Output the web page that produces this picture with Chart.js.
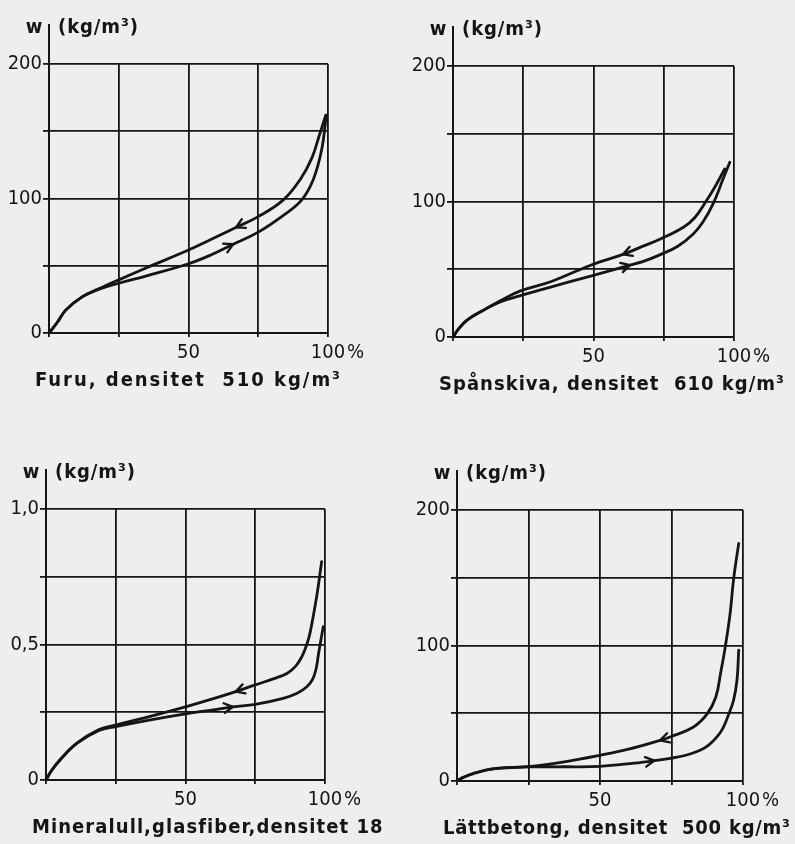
<!DOCTYPE html>
<html><head><meta charset="utf-8">
<script src="https://cdn.jsdelivr.net/npm/chart.js@4.4.1/dist/chart.umd.min.js"></script>
<style>
html,body{margin:0;padding:0;background:#eeeeee;width:795px;height:844px;overflow:hidden;position:relative}
.panel{position:absolute}
</style></head><body>
<script>
// ---------- data (x = relative humidity %, y = moisture content w) ----------
const furuAbsRH = [0, 3, 6, 12, 18, 25, 35, 50, 58, 66, 75, 85, 90.6, 94.7, 97.7, 99.4];
const furuAbsW  = [0, 8, 17, 27, 32.5, 37, 42.5, 51.5, 58, 66, 75, 89, 99, 114, 136, 162];
const furuDesRH = [0, 3, 6, 12, 18, 25, 35, 50, 58, 67, 75, 84, 90, 94.2, 96.9, 99.2];
const furuDesW  = [0, 8, 17, 27, 33, 39.5, 48.5, 61.7, 69.5, 78.5, 86.5, 99, 114, 130, 147, 162];

const spanAbsRH = [0, 2, 5, 11, 17, 24, 35, 49, 63, 68, 74, 80, 85.5, 89, 92.5, 96, 98.5];
const spanAbsW  = [0, 6, 12.5, 20, 26, 30.5, 37, 45, 53, 56, 61, 67, 76, 85, 98, 116, 129];
const spanDesRH = [0, 2, 5, 11, 17, 24, 35, 49, 60.5, 67, 74, 82, 86, 90, 93, 96.7];
const spanDesW  = [0, 6, 12.5, 20, 27, 34, 41, 53, 61, 66.5, 72.5, 81, 88, 100, 110, 124];

const woolAbsRH = [0, 2, 5, 11, 19, 25, 37, 50, 60, 67, 75, 85, 90, 93.5, 95.5, 96.8, 97.6, 98.5, 99.4];
const woolAbsW  = [0, 0.035, 0.074, 0.135, 0.183, 0.197, 0.221, 0.244, 0.259, 0.27, 0.279, 0.301, 0.32, 0.344, 0.37, 0.41, 0.46, 0.515, 0.566];
const woolDesRH = [0, 2, 5, 11, 19, 25, 37, 50, 60, 68, 75, 82, 86.5, 89.5, 91.7, 93.3, 94.6, 97, 98.8];
const woolDesW  = [0, 0.035, 0.074, 0.135, 0.186, 0.203, 0.234, 0.27, 0.3, 0.326, 0.351, 0.375, 0.394, 0.42, 0.455, 0.495, 0.541, 0.676, 0.806];

const lattAbsRH = [0, 2, 5.6, 12.6, 25, 37, 50, 62, 69, 74.5, 80, 85, 88, 90.9, 93, 95, 96.7, 97.9, 98.5];
const lattAbsW  = [0, 2.5, 5.5, 9, 10.4, 10.5, 10.8, 13.2, 15, 16.7, 19, 22.7, 26.5, 32.5, 39, 49.3, 59.6, 74.4, 96.6];
const lattDesRH = [0, 2, 5.6, 12.6, 25, 37, 50, 60, 71, 74.5, 82.7, 87.4, 90.5, 92.2, 93.8, 95.5, 96.7, 98.5];
const lattDesW  = [0, 2.5, 5.5, 9, 10.6, 14, 19, 23.5, 30, 32.5, 39.9, 49.3, 62, 80, 99, 123.7, 148.8, 175.4];

// arrow positions (RH value of the point carrying the arrow): [absorption, desorption]
const furuArrows = [66, 67];
const spanArrows = [63, 60.5];
const woolArrows = [67, 68];
const lattArrows = [69, 71];

// tick labels
const kgTickValues   = [0, 100, 200];
const kgTickText     = ['0', '100', '200'];
const woolTickValues = [0, 0.5, 1.0];
const woolTickText   = ['0', '0,5', '1,0'];
const rhTickValues   = [50, 100];
const rhTickText     = ['50', '100'];

const unitLabel = '(kg/m³)';
const captions = [
  'Furu, densitet  510 kg/m³',
  'Spånskiva, densitet  610 kg/m³',
  'Mineralull,glasfiber,densitet 18',
  'Lättbetong, densitet  500 kg/m³'
];

// ---------- styling / layout ----------
const INK = '#151515';
const TICK_FONT = "'Liberation Sans Narrow', 'DejaVu Sans Condensed', sans-serif";
const TICK_SIZE = 20;
const TEXT_FONT = "bold 20px 'DejaVu Sans Condensed', 'DejaVu Sans', sans-serif";

const panels = [
  { absX: furuAbsRH, absY: furuAbsW, desX: furuDesRH, desY: furuDesW, arrows: furuArrows,
    yMax: 200, yStep: 50, tv: kgTickValues, tt: kgTickText, caption: captions[0],
    box: { L: 49, T: 64, R: 328, B: 333 }, capW: 305 },
  { absX: spanAbsRH, absY: spanAbsW, desX: spanDesRH, desY: spanDesW, arrows: spanArrows,
    yMax: 200, yStep: 50, tv: kgTickValues, tt: kgTickText, caption: captions[1],
    box: { L: 453, T: 66, R: 734, B: 337 }, capW: 345 },
  { absX: woolAbsRH, absY: woolAbsW, desX: woolDesRH, desY: woolDesW, arrows: woolArrows,
    yMax: 1.0, yStep: 0.25, tv: woolTickValues, tt: woolTickText, caption: captions[2],
    box: { L: 46, T: 509, R: 325, B: 780 }, capW: 350 },
  { absX: lattAbsRH, absY: lattAbsW, desX: lattDesRH, desY: lattDesW, arrows: lattArrows,
    yMax: 200, yStep: 50, tv: kgTickValues, tt: kgTickText, caption: captions[3],
    box: { L: 457, T: 510, R: 743, B: 781 }, capW: 347 }
];

function toPoints(xs, ys) { return xs.map((x, i) => ({ x: x, y: ys[i] })); }

function drawFitted(ctx, text, x, y, width) {
  ctx.letterSpacing = '0px';
  const w = ctx.measureText(text).width;
  const n = Array.from(text).length;
  if ('letterSpacing' in ctx && n > 1) ctx.letterSpacing = ((width - w) / (n - 1)) + 'px';
  ctx.fillText(text, x, y);
  ctx.letterSpacing = '0px';
}

const panelPlugin = {
  id: 'panelText',
  afterDatasetsDraw(chart) {
    const ctx = chart.ctx;
    ctx.save();
    ctx.strokeStyle = INK; ctx.lineWidth = 2.3; ctx.lineCap = 'round'; ctx.lineJoin = 'round';
    chart.data.datasets.forEach((ds, i) => {
      if (ds.arrowAt == null) return;
      const meta = chart.getDatasetMeta(i);
      const idx = ds.data.findIndex(p => p.x === ds.arrowAt);
      if (idx < 0) return;
      const el = meta.data[idx];
      let dx, dy;
      if (el.cp1x !== undefined && el.cp2x !== undefined) { dx = el.cp2x - el.cp1x; dy = el.cp2y - el.cp1y; }
      else { const a = meta.data[idx - 1], b = meta.data[idx + 1]; dx = b.x - a.x; dy = b.y - a.y; }
      const ang = Math.atan2(dy, dx) + (ds.arrowDir < 0 ? Math.PI : 0);
      const L = 10, s = 0.5;
      ctx.beginPath();
      ctx.moveTo(el.x - L * Math.cos(ang - s), el.y - L * Math.sin(ang - s));
      ctx.lineTo(el.x, el.y);
      ctx.lineTo(el.x - L * Math.cos(ang + s), el.y - L * Math.sin(ang + s));
      ctx.stroke();
    });
    ctx.restore();
  },
  afterDraw(chart) {
    const o = chart.options.plugins.panelText;
    const { ctx } = chart;
    const { left, top, right, bottom } = chart.chartArea;
    ctx.save();
    ctx.strokeStyle = INK; ctx.fillStyle = INK; ctx.lineWidth = 2;
    ctx.beginPath(); ctx.moveTo(left, top); ctx.lineTo(left, top - 40); ctx.stroke();
    ctx.font = TEXT_FONT; ctx.textBaseline = 'middle';
    ctx.textAlign = 'center'; ctx.fillText('w', left - 15, top - 36);
    ctx.textAlign = 'left'; drawFitted(ctx, o.unit, left + 9, top - 36, 80);
    drawFitted(ctx, o.caption, left - 14, bottom + 48, o.capW);
    ctx.font = TICK_SIZE + "px " + TICK_FONT;
    ctx.fillText('%', right + 19, bottom + 20);
    ctx.restore();
  }
};

const PL = 50, PT = 64, PR = 65, PB = 70;
panels.forEach(p => {
  const W = (p.box.R - p.box.L) + PL + PR;
  const H = (p.box.B - p.box.T) + PT + PB;
  const div = document.createElement('div');
  div.className = 'panel';
  div.style.left = (p.box.L - PL) + 'px';
  div.style.top = (p.box.T - PT) + 'px';
  div.style.width = W + 'px'; div.style.height = H + 'px';
  const c = document.createElement('canvas');
  c.width = W; c.height = H; c.style.width = W + 'px'; c.style.height = H + 'px';
  div.appendChild(c); document.body.appendChild(div);

  const gridOpts = (tl) => ({ color: INK, lineWidth: 1.8, tickLength: tl, tickColor: INK, tickWidth: 1.8 });
  new Chart(c, {
    type: 'line',
    data: { datasets: [
      { label: 'Uppfuktning', data: toPoints(p.absX, p.absY), arrowAt: p.arrows[0], arrowDir: 1 },
      { label: 'Uttorkning', data: toPoints(p.desX, p.desY), arrowAt: p.arrows[1], arrowDir: -1 }
    ] },
    options: {
      responsive: false, animation: false, devicePixelRatio: 1,
      layout: { padding: { left: 5, top: PT, right: PR, bottom: 30 } },
      elements: {
        point: { radius: 0, hoverRadius: 0 },
        line: { borderWidth: 2.8, borderColor: INK, tension: 0.4, fill: false, borderCapStyle: 'round', borderJoinStyle: 'round' }
      },
      plugins: {
        legend: { display: false }, tooltip: { enabled: false },
        panelText: { unit: unitLabel, caption: p.caption, capW: p.capW }
      },
      scales: {
        x: {
          type: 'linear', min: 0, max: 100,
          afterFit: s => { s.height = 40; },
          grid: gridOpts(4),
          border: { color: INK, width: 2 },
          ticks: {
            stepSize: 25, autoSkip: false, maxRotation: 0, padding: 4, color: INK,
            font: { family: TICK_FONT, size: TICK_SIZE },
            callback: v => { const i = rhTickValues.indexOf(v); return i >= 0 ? rhTickText[i] : ''; }
          }
        },
        y: {
          type: 'linear', min: 0, max: p.yMax,
          afterFit: s => { s.width = 45; },
          grid: gridOpts(6),
          border: { color: INK, width: 2 },
          ticks: {
            stepSize: p.yStep, autoSkip: false, padding: 1, color: INK,
            font: { family: TICK_FONT, size: TICK_SIZE },
            callback: v => { const i = p.tv.findIndex(t => Math.abs(t - v) < 1e-9); return i >= 0 ? p.tt[i] : ''; }
          }
        }
      }
    },
    plugins: [panelPlugin]
  });
});
</script>
</body></html>
